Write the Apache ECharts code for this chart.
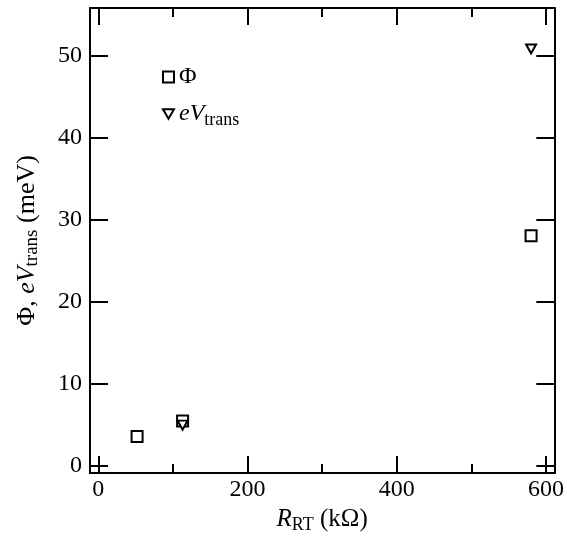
<!DOCTYPE html>
<html>
<head>
<meta charset="utf-8">
<script src="https://cdn.jsdelivr.net/npm/echarts@6/dist/echarts.min.js"></script>
<style>
  html, body { margin: 0; padding: 0; background: #fff; }
  #chart { width: 567px; height: 540px; }
</style>
</head>
<body>
<div id="chart"></div>
<script>
// data
const phiPoints = [[52, 3.5], [113, 5.4], [580, 28.0]];
const eVtransPoints = [[113, 4.9], [580, 50.8]];
const xMajorTicks = [0, 200, 400, 600];
const xMinorTicks = [100, 300, 500];
const yMajorTicks = [0, 10, 20, 30, 40, 50];

const font = "Liberation Serif";
function richSet(size, sub) {
  return {
    n: { fontFamily: font, fontSize: size, color: "#000", lineHeight: 30, verticalAlign: "middle" },
    i: { fontFamily: font, fontSize: size, fontStyle: "italic", color: "#000", lineHeight: 30, verticalAlign: "middle" },
    s: { fontFamily: font, fontSize: sub, color: "#000", lineHeight: sub, verticalAlign: "bottom" }
  };
}

const X_MIN = -11.1, X_MAX = 611.1;
const Y_MIN = -0.94, Y_MAX = 55.8;

function xAxis(position, tickValues, tickLen, withLabels, name) {
  return {
    type: "value", position: position, min: X_MIN, max: X_MAX,
    axisLine: { show: true, onZero: false, lineStyle: { color: "#000", width: 2 } },
    axisTick: { show: true, inside: true, length: tickLen, customValues: tickValues, lineStyle: { color: "#000", width: 2 } },
    axisLabel: withLabels
      ? { show: true, customValues: tickValues, margin: 5, fontFamily: font, fontSize: 24, color: "#000" }
      : { show: false },
    splitLine: { show: false },
    name: name || "",
    nameLocation: "middle", nameGap: 30,
    nameTextStyle: { rich: richSet(25, 18) }
  };
}

function yAxis(position, withLabels, name) {
  return {
    type: "value", position: position, min: Y_MIN, max: Y_MAX,
    axisLine: { show: true, onZero: false, lineStyle: { color: "#000", width: 2 } },
    axisTick: { show: true, inside: true, length: 18, customValues: yMajorTicks, lineStyle: { color: "#000", width: 2 } },
    axisLabel: withLabels
      ? { show: true, customValues: yMajorTicks, margin: 8, fontFamily: font, fontSize: 24, color: "#000" }
      : { show: false },
    splitLine: { show: false },
    name: name || "",
    nameLocation: "middle", nameGap: 48,
    nameTextStyle: { rich: richSet(26, 19) }
  };
}

const triangleDown = "path://M0,0L10,0L5,8.7Z";

const chart = echarts.init(document.getElementById("chart"));
chart.setOption({
  animation: false,
  grid: { left: 90, top: 8, width: 465, height: 465 },
  xAxis: [
    xAxis("bottom", xMajorTicks, 17, true, "{i|R}{s|RT}{n| (kΩ)}"),
    xAxis("bottom", xMinorTicks, 9, false),
    xAxis("top", xMajorTicks, 17, false),
    xAxis("top", xMinorTicks, 9, false)
  ],
  yAxis: [
    yAxis("left", true, "{n|Φ, }{i|eV}{s|trans}{n| (meV)}"),
    yAxis("right", false)
  ],
  legend: {
    orient: "vertical", left: 157, top: 60, itemGap: 13,
    itemWidth: 11, itemHeight: 11,
    formatter: function (name) {
      return name === "Phi" ? "{n|Φ}" : "{i|eV}{s|trans}";
    },
    textStyle: { rich: richSet(24, 18) },
    data: ["Phi", "eVtrans"]
  },
  series: [
    {
      name: "Phi", type: "scatter", data: phiPoints,
      symbol: "rect", symbolSize: 11,
      itemStyle: { color: "#fff", borderColor: "#000", borderWidth: 2, opacity: 1 }
    },
    {
      name: "eVtrans", type: "scatter", data: eVtransPoints,
      symbol: triangleDown, symbolSize: [10, 9],
      itemStyle: { color: "#fff", borderColor: "#000", borderWidth: 2, opacity: 1 }
    }
  ]
});
</script>
</body>
</html>
